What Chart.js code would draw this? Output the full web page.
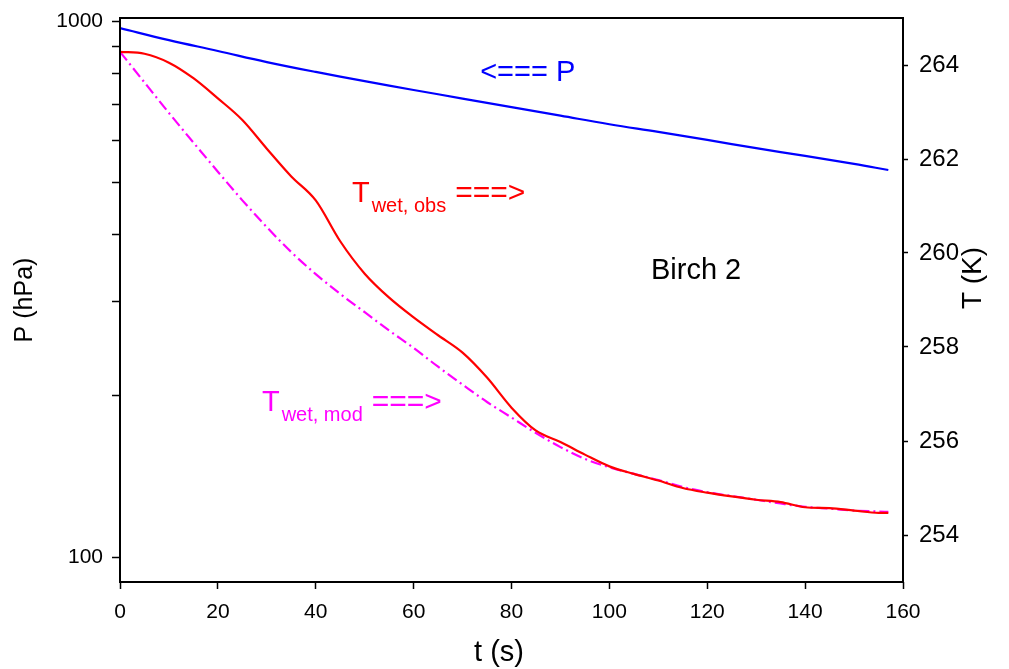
<!DOCTYPE html>
<html>
<head>
<meta charset="utf-8">
<script src="https://cdn.jsdelivr.net/npm/chart.js@4/dist/chart.umd.min.js"></script>
<style>
  body { margin: 0; background: #fff; }
</style>
</head>
<body>
<canvas id="birchChart" width="1009" height="669"></canvas>
<script>
// Data

const pTimes = [0, 10, 20, 30, 40, 50, 60, 70, 80, 90, 100, 110, 120, 130, 140, 150, 157];
const pValues = [972, 923, 881, 840, 805, 774, 745, 718, 692, 667, 643, 622, 601, 580, 561, 542, 528];

const tTimes = [0, 5, 10, 15, 20, 25, 30, 35, 40, 45, 50, 55, 60, 65, 70, 75, 80, 85, 90, 95, 100, 105, 110, 115, 120, 125, 130, 135, 140, 145, 150, 155, 157];
const tObs = [264.28, 264.24, 264.05, 263.72, 263.29, 262.83, 262.22, 261.63, 261.12, 260.25, 259.56, 259.05, 258.63, 258.25, 257.88, 257.35, 256.71, 256.22, 255.98, 255.71, 255.46, 255.30, 255.16, 255.00, 254.90, 254.82, 254.75, 254.70, 254.59, 254.57, 254.52, 254.47, 254.47];
const tMod = [264.28, 263.63, 262.98, 262.35, 261.73, 261.12, 260.55, 260.02, 259.55, 259.13, 258.74, 258.35, 257.98, 257.58, 257.20, 256.83, 256.50, 256.17, 255.87, 255.62, 255.44, 255.30, 255.17, 255.02, 254.91, 254.83, 254.75, 254.67, 254.60, 254.56, 254.52, 254.50, 254.49];

const xTicks = [0, 20, 40, 60, 80, 100, 120, 140, 160];
const pTicks = [100, 200, 300, 400, 500, 600, 700, 800, 900, 1000];
const pLabels = [100, 1000];
const tTicks = [254, 256, 258, 260, 262, 264];

const FONT = "'Liberation Sans', Arial, sans-serif";

// text labels inside the plot, placed in (t, T) units
const notes = [
    { lead: "<=== P", sub: "", tail: "", color: "#0000ff", t: 73.6, T: 263.66 },
    { lead: "T", sub: "wet, obs", tail: "===>", color: "#ff0000", t: 47.4, T: 261.08 },
    { lead: "T", sub: "wet, mod", tail: "===>", color: "#ff00ff", t: 29.0, T: 256.64 },
    { lead: "Birch 2", sub: "", tail: "", color: "#000000", t: 108.5, T: 259.45 }
];

const toPoints = (xs, ys) => xs.map((x, i) => ({ x: x, y: ys[i] }));

const noPad = (s) => { s.paddingTop = 0; s.paddingBottom = 0; };

// frame round the plot, text notes and the two hand-placed titles
const framePlugin = {
    id: "frame",
    afterDatasetsDraw(chart) {
        const { ctx, chartArea: a, scales } = chart;
        ctx.save();
        ctx.strokeStyle = "#000";
        ctx.lineWidth = 2;
        ctx.strokeRect(a.left, a.top, a.right - a.left, a.bottom - a.top);

        ctx.textBaseline = "alphabetic";
        ctx.textAlign = "left";
        notes.forEach((n) => {
            let x = scales.x.getPixelForValue(n.t);
            const y = scales.yT.getPixelForValue(n.T);
            ctx.fillStyle = n.color;
            ctx.font = "29px " + FONT;
            ctx.fillText(n.lead, x, y);
            x += ctx.measureText(n.lead).width + 2;
            if (n.sub) {
                ctx.font = "20px " + FONT;
                ctx.fillText(n.sub, x, y + 10);
                x += ctx.measureText(n.sub).width + 9;
            }
            if (n.tail) {
                ctx.font = "30px " + FONT;
                ctx.fillText(n.tail, x, y);
            }
        });

        ctx.fillStyle = "#000";
        ctx.textAlign = "center";
        ctx.textBaseline = "middle";

        // x axis title
        ctx.font = "29px " + FONT;
        ctx.fillText("t (s)", 499, 653);

        // right axis title, reading bottom to top
        ctx.font = "28px " + FONT;
        ctx.translate(973, 278);
        ctx.rotate(-Math.PI / 2);
        ctx.fillText("T (K)", 0, 0);
        ctx.restore();
    }
};

new Chart(document.getElementById("birchChart"), {
    type: "line",
    data: {
        datasets: [
            {
                label: "P",
                data: toPoints(pTimes, pValues),
                yAxisID: "yP",
                borderColor: "#0000ff",
                borderWidth: 2.2,
                pointRadius: 0,
                tension: 0.4
            },
            {
                label: "Twet obs",
                data: toPoints(tTimes, tObs),
                yAxisID: "yT",
                borderColor: "#ff0000",
                borderWidth: 2.2,
                pointRadius: 0,
                cubicInterpolationMode: "monotone"
            },
            {
                label: "Twet mod",
                data: toPoints(tTimes, tMod),
                yAxisID: "yT",
                borderColor: "#ff00ff",
                borderWidth: 2.2,
                borderDash: [11, 4, 2, 4],
                pointRadius: 0,
                cubicInterpolationMode: "monotone"
            }
        ]
    },
    options: {
        responsive: false,
        animation: false,
        devicePixelRatio: 1,
        layout: { padding: { top: 18, left: 0, right: 0, bottom: 0 } },
        plugins: { legend: { display: false }, tooltip: { enabled: false } },
        scales: {
            x: {
                type: "linear",
                min: 0,
                max: 160,
                afterBuildTicks: (s) => { s.ticks = xTicks.map((v) => ({ value: v })); },
                afterFit: (s) => { s.height = 87; s.paddingLeft = 0; s.paddingRight = 0; },
                ticks: { color: "#000", font: { family: FONT, size: 21 }, padding: 11, maxRotation: 0, autoSkip: false },
                grid: { drawOnChartArea: false, tickLength: 7, color: "#000", tickWidth: 1.5 },
                border: { display: false }
            },
            yP: {
                type: "logarithmic",
                position: "left",
                min: 89.81,
                max: 1015.2,
                afterBuildTicks: (s) => { s.ticks = pTicks.map((v) => ({ value: v })); },
                afterFit: (s) => { s.width = 120; noPad(s); },
                ticks: {
                    color: "#000",
                    font: { family: FONT, size: 21 },
                    padding: 9,
                    autoSkip: false,
                    callback: (v) => (pLabels.includes(v) ? String(v) : "")
                },
                grid: { drawOnChartArea: false, tickLength: 8, color: "#000", tickWidth: 1.5 },
                border: { display: false },
                title: { display: true, text: "P (hPa)", color: "#000", font: { family: FONT, size: 25 }, padding: { top: 10, bottom: 0 } }
            },
            yT: {
                type: "linear",
                position: "right",
                min: 253,
                max: 265,
                afterBuildTicks: (s) => { s.ticks = tTicks.map((v) => ({ value: v })); },
                afterFit: (s) => { s.width = 106; noPad(s); },
                ticks: { color: "#000", font: { family: FONT, size: 24 }, padding: 11, autoSkip: false },
                grid: { drawOnChartArea: false, tickLength: 5, color: "#000", tickWidth: 1.5 },
                border: { display: false }
            }
        }
    },
    plugins: [framePlugin]
});
</script>
</body>
</html>
